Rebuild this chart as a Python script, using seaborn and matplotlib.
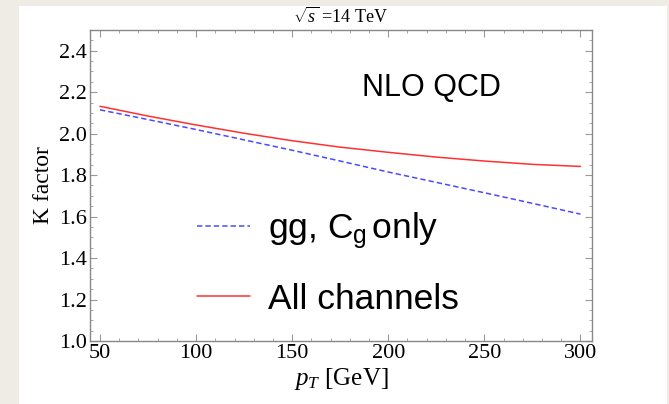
import matplotlib
matplotlib.use("Agg")
import matplotlib.pyplot as plt
import seaborn as sns
import pandas as pd
from matplotlib.patches import Rectangle
from matplotlib.ticker import MultipleLocator

pt = [50, 75, 100, 125, 150, 175, 200, 225, 250, 275, 300]
k_gg = [2.115, 2.068, 2.020, 1.970, 1.920, 1.868, 1.815, 1.765, 1.715, 1.664, 1.612]
k_all = [2.132, 2.085, 2.042, 2.002, 1.966, 1.935, 1.910, 1.887, 1.868, 1.852, 1.842]
label_gg = "gg, C$_\\mathregular{g}\\,$only"
label_all = "All channels"
x_ticks = [50, 100, 150, 200, 250, 300]
y_ticks = [1.0, 1.2, 1.4, 1.6, 1.8, 2.0, 2.2, 2.4]

sns.set_theme(style="ticks")
plt.rcParams["font.family"] = ["Liberation Serif", "DejaVu Serif"]
plt.rcParams["mathtext.fontset"] = "custom"
plt.rcParams["mathtext.rm"] = "Liberation Serif"
plt.rcParams["mathtext.it"] = "Liberation Serif:italic"
for key in ["text.color", "axes.labelcolor", "xtick.labelcolor", "ytick.labelcolor"]:
    plt.rcParams[key] = "black"

fig = plt.figure(figsize=(6.69, 4.04), dpi=100)
fig.patch.set_facecolor("#efece5")
fig.patches.append(Rectangle((19 / 669, 0), (667 - 19) / 669, 1 - 6 / 404,
                             transform=fig.transFigure, facecolor="white",
                             edgecolor="none", zorder=-10))
ax = fig.add_axes([90 / 669, 1 - 341 / 404, (592 - 90) / 669, (341 - 30) / 404])
ax.set_facecolor("white")

df_gg = pd.DataFrame({"pt": pt, "k": k_gg})
df_all = pd.DataFrame({"pt": pt, "k": k_all})
sns.lineplot(data=df_gg, x="pt", y="k", ax=ax, color="#4a4aff", lw=1.1,
             linestyle=(0, (3.5, 2)), label=label_gg)
sns.lineplot(data=df_all, x="pt", y="k", ax=ax, color="#ff3030", lw=1.1,
             label=label_all)

ax.set_xlim(44.8, 306)
ax.set_ylim(1.0, 2.5)
ax.set_xticks(x_ticks)
ax.set_yticks(y_ticks)
ax.set_yticklabels([f"{v:.1f}" for v in y_ticks])
ax.xaxis.set_minor_locator(MultipleLocator(10))
ax.yaxis.set_minor_locator(MultipleLocator(0.05))
ax.tick_params(which="both", direction="in", top=True, right=True,
               color="#999999", labelcolor="black", labelsize=16, pad=2)
ax.tick_params(which="major", length=5, width=0.8)
ax.tick_params(which="minor", length=2.5, width=0.6)
for s in ax.spines.values():
    s.set_color("#888888")
    s.set_linewidth(1.0)

ax.set_xlabel("$p_T$ [GeV]", fontsize=18, labelpad=2, color="black")
ax.set_ylabel("K factor", fontsize=17, labelpad=4, color="black")
ax.set_title("$\\sqrt{s}$ =14 TeV", fontsize=13, pad=5, color="black")

ax.text(0.681, 0.815, "NLO QCD", transform=ax.transAxes, fontsize=22,
        family="Liberation Sans", ha="center", va="center", color="black")

leg = ax.legend(loc="center left", bbox_to_anchor=(0.213, 0.25), frameon=False,
                prop={"family": "Liberation Sans", "size": 25.5},
                handlelength=1.5, handletextpad=0.5, labelspacing=0.9,
                borderpad=0, borderaxespad=0)
for t in leg.get_texts():
    t.set_color("black")

fig.savefig("out.png", dpi=100, facecolor=fig.get_facecolor())
